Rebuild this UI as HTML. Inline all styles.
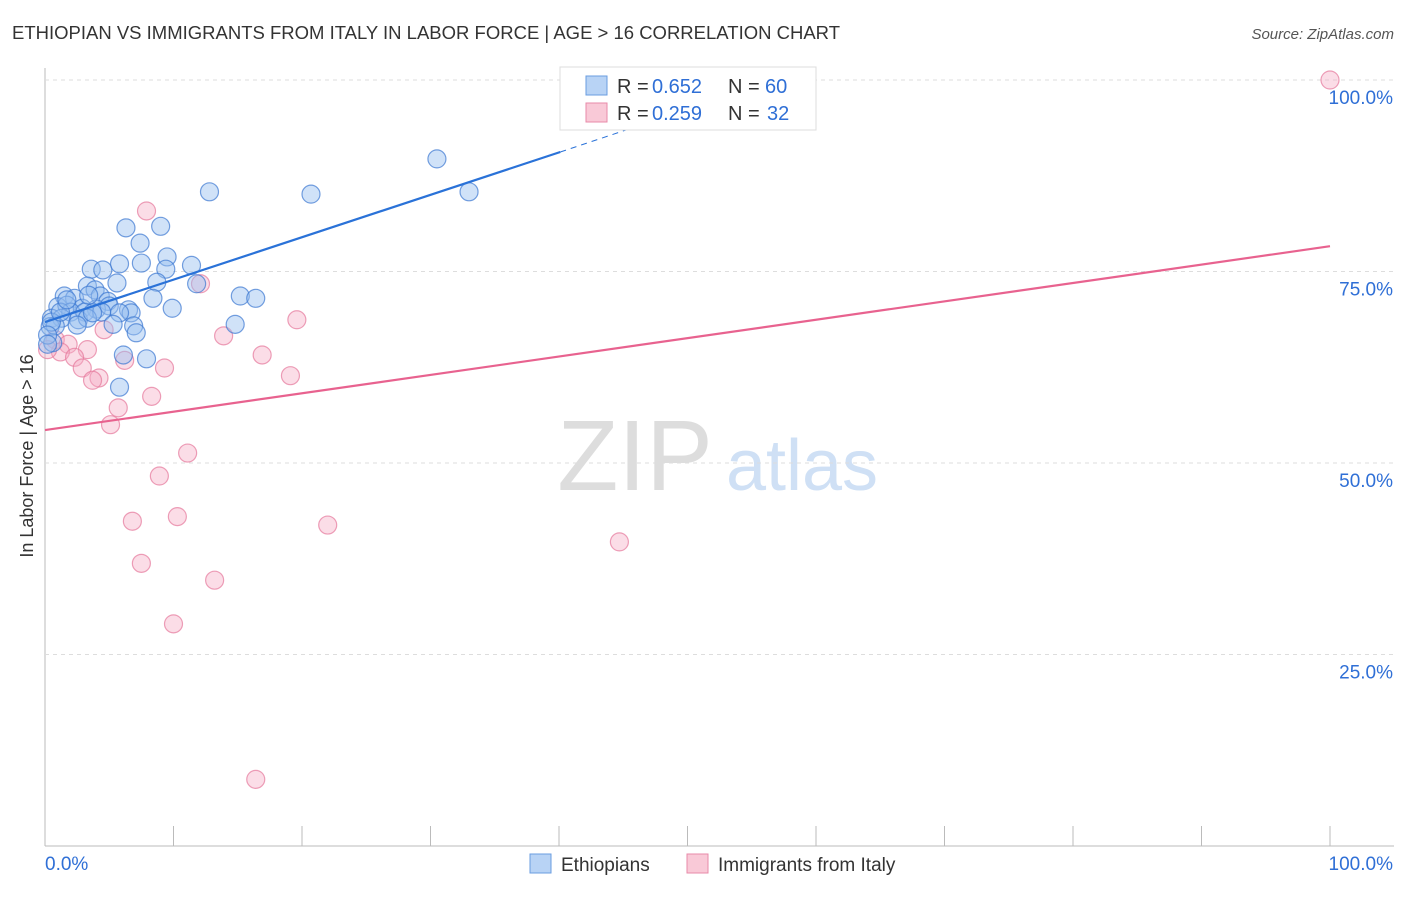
<!DOCTYPE html>
<html><head><meta charset="utf-8"><style>
body{margin:0;background:#fff;font-family:"Liberation Sans",sans-serif}
svg text{font-family:"Liberation Sans",sans-serif}
</style></head><body>
<svg id="c" width="1406" height="892">
<text x="12" y="39" font-size="18.5" fill="#333" textLength="828">ETHIOPIAN VS IMMIGRANTS FROM ITALY IN LABOR FORCE | AGE &gt; 16 CORRELATION CHART</text>
<text x="1394" y="39" font-size="15" fill="#555" font-style="italic" text-anchor="end">Source: ZipAtlas.com</text>
<text x="33" y="456" font-size="18" fill="#333" transform="rotate(-90 33 456)" text-anchor="middle">In Labor Force | Age &gt; 16</text>
<g><text x="635" y="490" font-size="100" fill="#ddd" font-family="Liberation Serif" text-anchor="middle">ZIP</text><text x="802" y="490" font-size="72" fill="#cfe0f5" text-anchor="middle">atlas</text></g>
<g id="grid"></g><g id="marks"></g>
<g>
<rect x="560" y="67" width="256" height="63" fill="#fff" stroke="#ddd"/>
<rect x="586" y="76" width="21" height="19" fill="#b8d3f5" stroke="#6a9de0"/>
<rect x="586" y="103" width="21" height="19" fill="#f9c9d7" stroke="#e88aa8"/>
<text x="617" y="93" font-size="20" fill="#333">R =</text><text x="652" y="93" font-size="20" fill="#2f6fd6">0.652</text>
<text x="728" y="93" font-size="20" fill="#333">N =</text><text x="765" y="93" font-size="20" fill="#2f6fd6">60</text>
<text x="617" y="120" font-size="20" fill="#333">R =</text><text x="652" y="120" font-size="20" fill="#2f6fd6">0.259</text>
<text x="728" y="120" font-size="20" fill="#333">N =</text><text x="767" y="120" font-size="20" fill="#2f6fd6">32</text>
</g>
<g>
<rect x="530" y="854" width="21" height="19" fill="#b8d3f5" stroke="#6a9de0"/>
<text x="561" y="871" font-size="19" fill="#333">Ethiopians</text>
<rect x="687" y="854" width="21" height="19" fill="#f9c9d7" stroke="#e88aa8"/>
<text x="718" y="871" font-size="19" fill="#333">Immigrants from Italy</text>
</g>
</svg>
<script>
const yTicks=[25,50,75,100];
const yTickLabels=["25.0%","50.0%","75.0%","100.0%"];
const bluePx=[[210,192],[311,194],[437,159],[469,192],[126,228],[161,226],[140,243],[167,257],[141,263],[119,264],[166,269],[91,269],[103,270],[192,265],[157,282],[196,284],[88,286],[117,283],[95,290],[64,296],[74,298],[100,296],[153,298],[240,296],[256,298],[108,301],[58,307],[67,305],[82,308],[97,309],[109,306],[129,310],[131,313],[172,308],[71,312],[85,312],[102,312],[120,313],[52,318],[62,318],[78,320],[87,318],[113,324],[235,324],[134,326],[136,333],[50,327],[55,326],[53,343],[124,355],[146,359],[120,387],[51,322],[47,335],[60,312],[92,313],[77,325],[48,344],[67,300],[89,295]];
const pinkPx=[[1330,80],[147,211],[201,284],[297,320],[224,336],[104,330],[262,355],[125,360],[164,368],[290,376],[152,396],[118,408],[111,425],[188,453],[160,476],[177,517],[133,521],[328,525],[620,542],[141,563],[214,580],[173,624],[256,779],[55,340],[68,344],[88,350],[61,352],[75,357],[82,368],[99,378],[93,380],[48,350]];
const blueX=bluePx.map(p=>+((p[0]-45)/12.85).toFixed(1));
const blueY=bluePx.map(p=>+((846-p[1])/7.66).toFixed(1));
const pinkX=pinkPx.map(p=>+((p[0]-45)/12.85).toFixed(1));
const pinkY=pinkPx.map(p=>+((846-p[1])/7.66).toFixed(1));
const blueTrend=[[0,68.4],[40.1,90.6],[54,98.4]];
const pinkTrend=[[0,54.3],[100,78.3]];
const X=v=>45+v*12.85, Y=v=>846-v*7.66;
const NS="http://www.w3.org/2000/svg";
function mk(t,a,p){const e=document.createElementNS(NS,t);for(const k in a)e.setAttribute(k,a[k]);p.appendChild(e);return e;}
const g=document.getElementById('grid'),m=document.getElementById('marks');
const ax=mk('line',{x1:45,y1:68,x2:45,y2:846,stroke:'#bbb'},g);


const bx=mk('line',{x1:45,y1:846,x2:1394,y2:846,stroke:'#bbb'},g);


for(let i=0;i<=10;i++){const t=mk('line',{x1:X(i*10),x2:X(i*10),y1:826,y2:846,stroke:'#bbb'},g);

}
yTicks.forEach((v,i)=>{const l=mk('line',{x1:45,x2:1394,y1:Y(v),y2:Y(v),stroke:'#ddd','stroke-dasharray':'4,4'},g);


const t=mk('text',{x:1393,y:Y(v)+24,'font-size':19,fill:'#2f6fd6','text-anchor':'end'},g);t.textContent=yTickLabels[i];

});
const x0=mk('text',{x:45,y:870,'font-size':19,fill:'#2f6fd6'},g);x0.textContent='0.0%';


const x1=mk('text',{x:1393,y:870,'font-size':19,fill:'#2f6fd6','text-anchor':'end'},g);x1.textContent='100.0%';


pinkX.forEach((v,i)=>{const c=mk('circle',{cx:X(v),cy:Y(pinkY[i]),r:9,fill:'rgba(246,170,195,0.4)',stroke:'rgba(230,120,155,0.7)','stroke-width':1.2},m);

});
blueX.forEach((v,i)=>{const c=mk('circle',{cx:X(v),cy:Y(blueY[i]),r:9,fill:'rgba(150,190,240,0.45)',stroke:'rgba(60,120,210,0.7)','stroke-width':1.2},m);

});
const pl=mk('line',{x1:X(pinkTrend[0][0]),y1:Y(pinkTrend[0][1]),x2:X(pinkTrend[1][0]),y2:Y(pinkTrend[1][1]),stroke:'#e8628f','stroke-width':2.2},m);


const bl=mk('line',{x1:X(blueTrend[0][0]),y1:Y(blueTrend[0][1]),x2:X(blueTrend[1][0]),y2:Y(blueTrend[1][1]),stroke:'#2a72d8','stroke-width':2.2},m);


const bd=mk('line',{x1:X(blueTrend[1][0]),y1:Y(blueTrend[1][1]),x2:X(blueTrend[2][0]),y2:Y(blueTrend[2][1]),stroke:'#2a72d8','stroke-width':1,'stroke-dasharray':'6,5'},m);


</script>
</body></html>
